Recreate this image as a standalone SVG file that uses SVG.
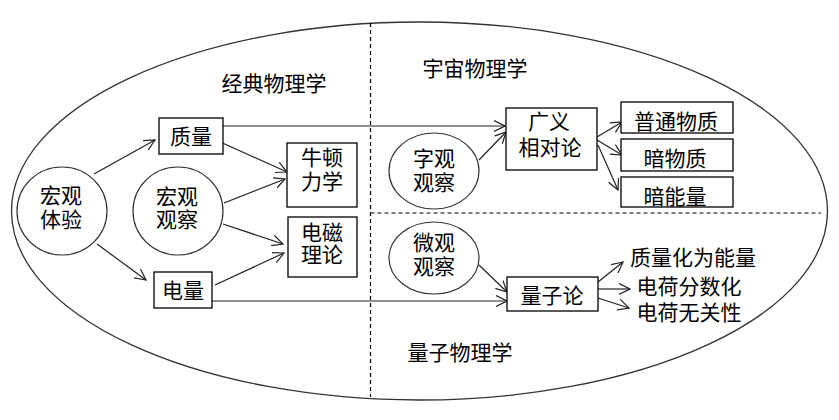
<svg xmlns="http://www.w3.org/2000/svg" width="839" height="420" viewBox="0 0 839 420">
<style>
text{font-family:"Noto Sans CJK SC","Noto Sans CJK JP",sans-serif;font-size:21px;fill:#000;text-anchor:middle}
.box{fill:#fff;stroke:#000;stroke-width:1.3}
.circ{fill:#fff;stroke:#333;stroke-width:1.2}
.dash{fill:none;stroke:#000;stroke-width:1.2;stroke-dasharray:4 3}
.edge{fill:none;stroke:#222;stroke-width:1.2;marker-end:url(#arr)}
</style>
<defs>
<marker id="arr" viewBox="0 0 12 12" refX="11" refY="6" markerWidth="12" markerHeight="12" markerUnits="userSpaceOnUse" orient="auto">
<path d="M0,0.5 L11,6 L0,11.5" fill="none" stroke="#222" stroke-width="1.2"/>
</marker>
</defs>
<rect width="839" height="420" fill="#fff"/>
<g id="frame">
<ellipse cx="419.5" cy="211" rx="408" ry="189" fill="none" stroke="#333" stroke-width="1.3"/>
<line class="dash" x1="370.5" y1="23" x2="370.5" y2="397"/>
<line class="dash" x1="370.5" y1="213" x2="821" y2="213"/>
<text x="274" y="91">经典物理学</text>
<text x="475" y="76">宇宙物理学</text>
<text x="460" y="360">量子物理学</text>
</g>
<g id="connectors">
<line class="edge" x1="94" y1="174" x2="155" y2="140"/>
<line class="edge" x1="97" y1="244" x2="146" y2="280"/>
<line class="edge" x1="218" y1="141" x2="287" y2="172"/>
<line class="edge" x1="224" y1="203" x2="285" y2="179"/>
<line class="edge" x1="223" y1="224" x2="283" y2="244"/>
<line class="edge" x1="215" y1="285" x2="284" y2="253"/>
<line class="edge" x1="223" y1="126" x2="505" y2="126"/>
<line class="edge" x1="212" y1="301" x2="507" y2="301"/>
<line class="edge" x1="479" y1="160" x2="506" y2="132"/>
<line class="edge" x1="479" y1="265" x2="507" y2="292"/>
<line class="edge" x1="597" y1="137" x2="622" y2="122"/>
<line class="edge" x1="597" y1="140" x2="622" y2="155"/>
<line class="edge" x1="598" y1="145" x2="618" y2="190"/>
<line class="edge" x1="598" y1="282" x2="623" y2="262"/>
<line class="edge" x1="598" y1="289" x2="630" y2="289"/>
<line class="edge" x1="598" y1="298" x2="629" y2="308"/>
</g>
<g id="hongguan_tiyan">
<ellipse class="circ" cx="62" cy="211" rx="45" ry="44"/>
<text x="61" y="203">宏观</text>
<text x="61" y="227">体验</text>
</g>
<g id="zhiliang">
<rect class="box" x="159" y="118" width="64" height="36"/>
<text x="191" y="144">质量</text>
</g>
<g id="dianliang">
<rect class="box" x="154" y="272" width="58" height="36"/>
<text x="183" y="298">电量</text>
</g>
<g id="hongguan_guancha">
<ellipse class="circ" cx="178" cy="211" rx="45" ry="44"/>
<text x="177" y="204">宏观</text>
<text x="177" y="227">观察</text>
</g>
<g id="niudun">
<rect class="box" x="287" y="143" width="70" height="64"/>
<text x="322" y="165">牛顿</text>
<text x="322" y="189">力学</text>
</g>
<g id="dianci">
<rect class="box" x="288" y="217" width="69" height="60"/>
<text x="322" y="240">电磁</text>
<text x="322" y="262">理论</text>
</g>
<g id="yuguan_guancha">
<ellipse class="circ" cx="434" cy="171" rx="45" ry="38"/>
<text x="434" y="166">字观</text>
<text x="434" y="190">观察</text>
</g>
<g id="weiguan_guancha">
<ellipse class="circ" cx="434" cy="258" rx="45" ry="36"/>
<text x="434" y="250">微观</text>
<text x="434" y="274">观察</text>
</g>
<g id="guangyi">
<rect class="box" x="506" y="108" width="91" height="62"/>
<text x="549" y="129">广义</text>
<text x="550" y="155">相对论</text>
</g>
<g id="liangzilun">
<rect class="box" x="507" y="277" width="91" height="34"/>
<text x="552" y="303">量子论</text>
</g>
<g id="putong">
<rect class="box" x="621" y="102" width="112" height="31"/>
<text x="676" y="129">普通物质</text>
</g>
<g id="anwuzhi">
<rect class="box" x="621" y="139" width="112" height="32"/>
<text x="675" y="166">暗物质</text>
</g>
<g id="annengliang">
<rect class="box" x="621" y="177" width="112" height="30"/>
<text x="675" y="204">暗能量</text>
</g>
<g id="quantum_results">
<text x="693" y="265">质量化为能量</text>
<text x="689" y="294">电荷分数化</text>
<text x="689" y="320">电荷无关性</text>
</g>
</svg>
